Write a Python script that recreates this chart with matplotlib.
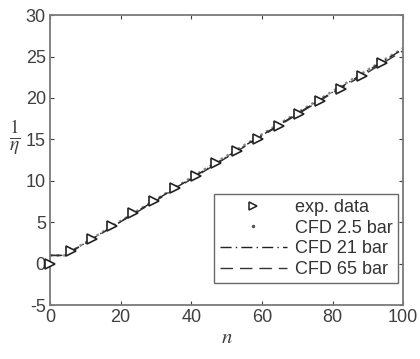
import matplotlib.pyplot as plt
from matplotlib.lines import Line2D

plt.rcParams['font.family'] = ['Liberation Sans', 'DejaVu Sans']
plt.rcParams['mathtext.fontset'] = 'stix'
plt.rcParams['axes.unicode_minus'] = False

# experimental points
n_exp = [0, 5.9, 11.8, 17.6, 23.5, 29.4, 35.3, 41.2, 47.1, 52.9, 58.8, 64.7, 70.6, 76.5, 82.4, 88.2, 94.1]
eta_exp = [0.0, 1.5, 3.0, 4.6, 6.1, 7.6, 9.1, 10.6, 12.1, 13.6, 15.1, 16.6, 18.1, 19.6, 21.1, 22.6, 24.2]

# CFD curves
n_cfd = [0, 5, 6, 10, 20, 30, 40, 50, 60, 70, 80, 90, 100]
cfd_25 = [1.0, 1.0, 1.5, 2.55, 5.15, 7.75, 10.4, 13.0, 15.6, 18.2, 20.8, 23.4, 26.0]
cfd_21 = [1.0, 1.0, 1.5, 2.5, 5.1, 7.7, 10.3, 12.9, 15.5, 18.1, 20.7, 23.3, 25.9]
cfd_65 = [1.0, 1.0, 1.45, 2.45, 5.05, 7.6, 10.2, 12.8, 15.4, 18.0, 20.6, 23.1, 25.7]

dashdot = (0, (8, 3, 1, 3))
dashed = (0, (9, 5))

fig = plt.figure(figsize=(4.2, 3.59), dpi=100)
ax = fig.add_axes([0.119, 0.150, 0.841, 0.808])

ax.plot(n_cfd, cfd_25, color='#888888', linestyle=':', linewidth=1.8)
ax.plot(n_cfd, cfd_21, color='#222222', linestyle=dashdot, linewidth=1.0)
ax.plot(n_cfd, cfd_65, color='#333333', linestyle=dashed, linewidth=1.0)
ax.plot(n_exp, eta_exp, linestyle='none', marker='>', markersize=7.5, clip_on=False, zorder=5,
        markerfacecolor='white', markeredgecolor='#222222', markeredgewidth=1.2)

ax.set_xlim(0, 100)
ax.set_ylim(-5, 30)
ax.set_xticks(range(0, 101, 20))
ax.set_yticks(range(-5, 31, 5))
ax.tick_params(direction='in', top=True, right=True, labelsize=13,
               colors='#404040', length=3, width=0.8, pad=3)
for s in ax.spines.values():
    s.set_color('#7a7a7a')
    s.set_linewidth(1.3)

ax.set_xlabel('$n$', fontsize=15, color='#404040', labelpad=1)
ax.set_ylabel(r'$\frac{1}{\eta}$', fontsize=20, color='#404040', rotation=0, va='center')
ax.yaxis.set_label_coords(-0.1, 0.58)

handles = [
    Line2D([], [], linestyle='none', marker='>', markersize=6, markerfacecolor='white',
           markeredgecolor='#222222', markeredgewidth=1.1),
    Line2D([], [], linestyle='none', marker='.', markersize=3, color='#555555'),
    Line2D([], [], color='#222222', linestyle=dashdot, linewidth=1.0),
    Line2D([], [], color='#333333', linestyle=dashed, linewidth=1.0),
]
labels = ['exp. data', 'CFD 2.5 bar', 'CFD 21 bar', 'CFD 65 bar']
leg = ax.legend(handles, labels, loc='lower right', bbox_to_anchor=(0.985, 0.075),
                fontsize=13, frameon=True, fancybox=False, handlelength=3.7,
                handletextpad=0.45, labelspacing=0.2, borderpad=0.3, borderaxespad=0)
leg.get_frame().set_edgecolor('#444444')
leg.get_frame().set_linewidth(1.0)
for t in leg.get_texts():
    t.set_color('#333333')

fig.savefig('out.png', dpi=100)
